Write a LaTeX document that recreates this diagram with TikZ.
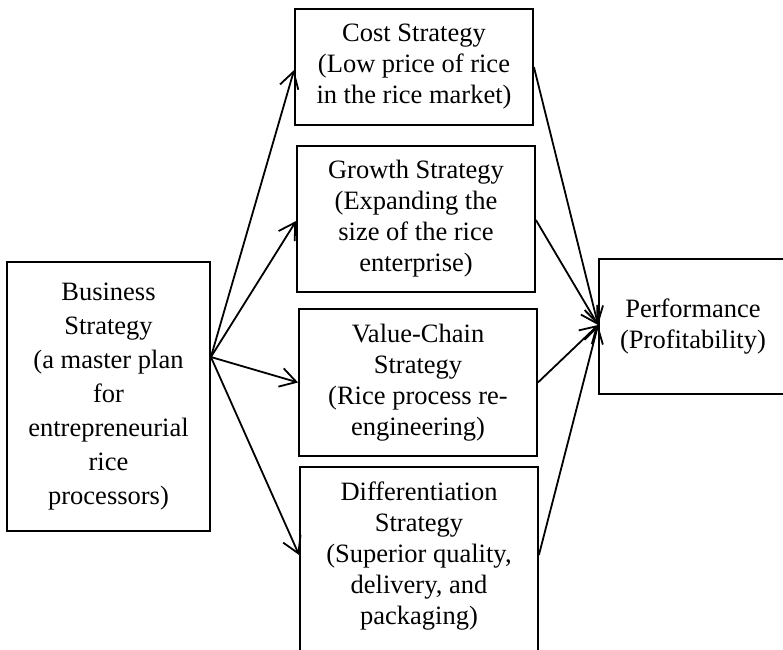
\documentclass[tikz,border=0pt]{standalone}
\usepackage{fontspec}
\setmainfont{Liberation Serif}
\usetikzlibrary{arrows.meta}
\begin{document}
\begin{tikzpicture}[x=1pt,y=-1pt,
  box/.style={draw, line width=1.8pt, inner sep=0pt, align=center,
    font=\fontsize{26.5}{31}\selectfont},
  txt/.style={inner sep=0pt, align=center, font=\fontsize{26.5}{31}\selectfont},
  link/.style={line width=1.8pt, -{Straight Barb[length=16pt, width=19pt, line width=1.8pt]}}
]
\useasboundingbox (0,0) rectangle (783,649);
\fill[white] (0,0) rectangle (783,649);
\clip (0,0) rectangle (783,649);

% strategy boxes
\node[box, minimum width=203pt, minimum height=269pt,
      font=\fontsize{26.5}{34}\selectfont] (L) at (108.5,396.5)
  {Business\\Strategy\\(a master plan\\for\\entrepreneurial\\rice\\processors)};
\node[box, minimum width=238pt, minimum height=116pt] (C) at (414,67)
  {Cost Strategy\\(Low price of rice\\in the rice market)};
\node[box, minimum width=238pt, minimum height=146pt] (G) at (416,219)
  {Growth Strategy\\(Expanding the\\size of the rice\\enterprise)};
\node[box, minimum width=238pt, minimum height=147pt] (V) at (418,382.5)
  {Value-Chain\\Strategy\\(Rice process re-\\engineering)};
\node[box, minimum width=238pt, minimum height=214pt, anchor=north] (D) at (419,466) {};
\node[txt] (Dt) at (419,556)
  {Differentiation\\Strategy\\(Superior quality,\\delivery, and\\packaging)};
\node[box, minimum width=188pt, minimum height=135pt] (P) at (693,326.5)
  {Performance\\(Profitability)};

% business strategy to each strategy
\draw[link] ([yshift=39.5pt]L.east) -- ([yshift=-3pt]C.west);
\draw[link] ([yshift=39.5pt]L.east) -- ([yshift=-2pt]G.west);
\draw[link] ([yshift=39.5pt]L.east) -- (V.west);
\draw[link] ([yshift=39.5pt]L.east) -- ([yshift=-89pt]D.north west);

% each strategy to performance
\draw[link] (C.east) -- ([yshift=1.5pt]P.west);
\draw[link] ([yshift=-1pt]G.east) -- ([yshift=1.5pt]P.west);
\draw[link] (V.east) -- ([yshift=1.5pt]P.west);
\draw[link] ([yshift=-89pt]D.north east) -- ([yshift=1.5pt]P.west);
\end{tikzpicture}
\end{document}
